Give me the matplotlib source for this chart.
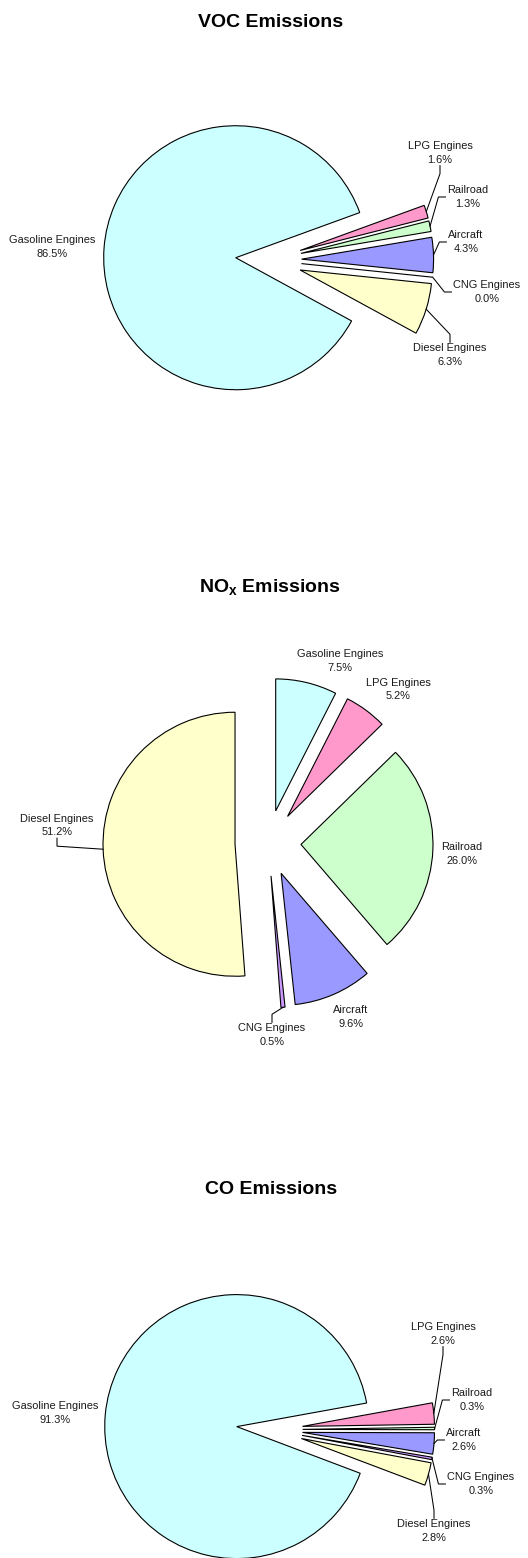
import matplotlib
matplotlib.use("Agg")
import matplotlib.pyplot as plt
import numpy as np

plt.rcParams['font.family'] = ['Liberation Sans', 'DejaVu Sans']
plt.rcParams['mathtext.fontset'] = 'custom'
plt.rcParams['mathtext.rm'] = 'Liberation Sans:bold'
plt.rcParams['mathtext.it'] = 'Liberation Sans:bold:italic'
plt.rcParams['mathtext.bf'] = 'Liberation Sans:bold'

# ---- data (percent share of emissions by source) ----
sources = ["Gasoline Engines", "LPG Engines", "Railroad",
           "Aircraft", "CNG Engines", "Diesel Engines"]
voc_share = [86.5, 1.6, 1.3, 4.3, 0.0, 6.3]
nox_share = [7.5, 5.2, 26.0, 9.6, 0.5, 51.2]
co_share = [91.3, 2.6, 0.3, 2.6, 0.3, 2.8]

slice_colors = ["#CCFFFF", "#FF99CC", "#CCFFCC", "#9999FF", "#CC99FF", "#FFFFCC"]

# ---- layout (pixels) ----
W, H = 528, 1558
R = 132.0
EXPLODE = 0.25
TEXT_COLOR = "#1a1a1a"

panels = [
    dict(title="VOC Emissions", title_xy=(270.7, 26.7), values=voc_share,
         center=(268.6, 260.2), startangle=331.4,
         label_xy=[(52, 247), (440, 153), (468, 197), (466, 242), (487, 292), (450, 355)],
         leader=[None, "bottom", "left", "left", "left", "top"]),
    dict(title=r"NO$_{\mathrm{x}}$ Emissions", title_xy=(270.0, 592.3), values=nox_share,
         center=(268.0, 843.0), startangle=90.0,
         label_xy=[(340, 661), (398, 689.5), (462, 854), (351, 1017), (272, 1035), (57, 825.5)],
         leader=[None, None, None, None, "top", "bottom"]),
    dict(title="CO Emissions", title_xy=(270.7, 1194.0), values=co_share,
         center=(269.6, 1429.6), startangle=339.3,
         label_xy=[(55, 1413), (443, 1334), (472, 1400), (464, 1440), (481, 1484), (434, 1531)],
         leader=[None, "bottom", "left", "left", "left", "top"]),
]

fig = plt.figure(figsize=(W / 100, H / 100), dpi=100)
renderer = fig.canvas.get_renderer()

for p in panels:
    cx, cy = p["center"]
    ax = fig.add_axes([0, 0, 1, 1])
    ax.patch.set_alpha(0)

    wedges, _ = ax.pie(p["values"], explode=[EXPLODE] * len(p["values"]),
                       colors=slice_colors, startangle=p["startangle"],
                       counterclock=False, radius=1.0, normalize=True,
                       wedgeprops=dict(edgecolor="black", linewidth=0.8))
    ax.set_xlim(-cx / R, (W - cx) / R)
    ax.set_ylim(-(H - cy) / R, cy / R)
    ax.set_aspect("auto")
    ax.axis("off")

    def px2d(x, y):
        return ((x - cx) / R, (cy - y) / R)

    to_data = ax.transData.inverted()

    for name, val, (lx, ly), side, w in zip(sources, p["values"], p["label_xy"],
                                              p["leader"], wedges):
        tx, ty = px2d(lx, ly)
        t = ax.text(tx, ty, f"{name}\n{val:.1f}%", ha="center", va="center",
                    multialignment="center", fontsize=7.9, linespacing=1.42,
                    color=TEXT_COLOR)
        if side is None:
            continue
        bb = t.get_window_extent(renderer)
        ymid = 0.5 * (bb.y0 + bb.y1)
        xmid = 0.5 * (bb.x0 + bb.x1)
        if side == "left":
            attach = (bb.x0 - 2, ymid)
            elbow = (bb.x0 - 9, ymid)
        elif side == "bottom":
            attach = (xmid, bb.y0 - 1)
            elbow = (xmid, bb.y0 - 9)
        else:
            attach = (xmid, bb.y1 + 1)
            elbow = (xmid, bb.y1 + 9)
        a = to_data.transform(attach)
        e = to_data.transform(elbow)
        # leader starts at the middle of the wedge's outer arc
        thm = np.deg2rad(0.5 * (w.theta1 + w.theta2))
        sx = w.center[0] + w.r * np.cos(thm)
        sy = w.center[1] + w.r * np.sin(thm)
        ax.plot([sx, e[0], a[0]], [sy, e[1], a[1]], color="black",
                linewidth=0.75, solid_joinstyle="miter", clip_on=False)

    tx, ty = p["title_xy"]
    fig.text(tx / W, 1 - ty / H, p["title"], ha="center", va="baseline",
             fontsize=14, fontweight="bold", color="black")

fig.savefig("out.png", dpi=100)
